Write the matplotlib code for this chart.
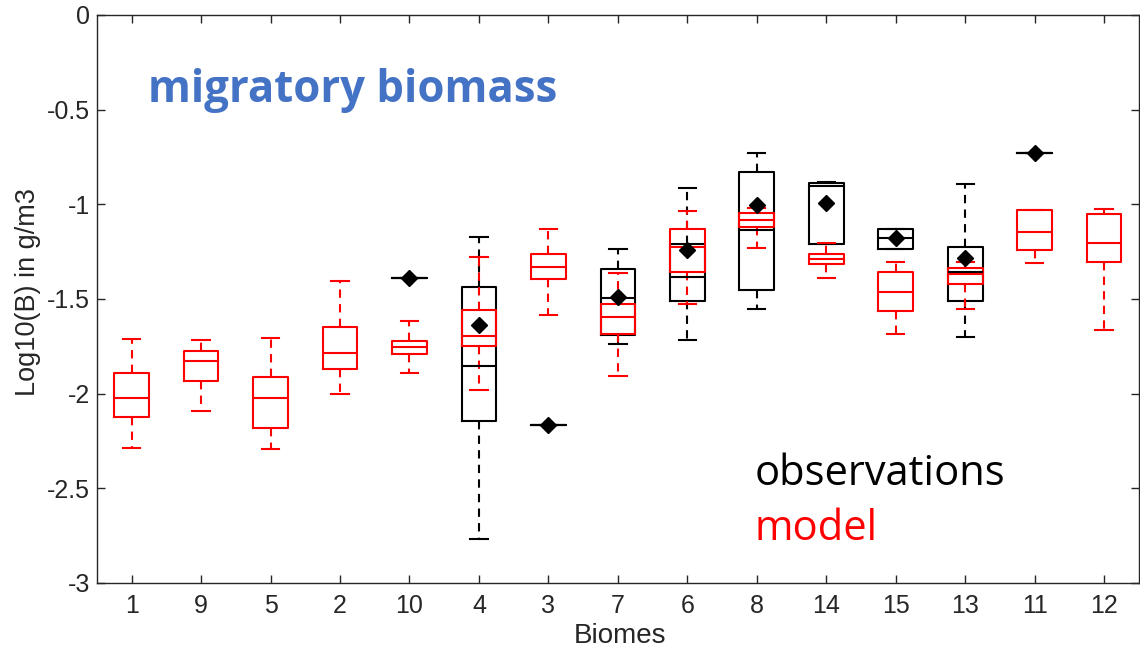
import matplotlib
matplotlib.use("Agg")
import matplotlib.pyplot as plt

plt.rcParams['axes.unicode_minus'] = False

biomes = ['1', '9', '5', '2', '10', '4', '3', '7', '6', '8', '14', '15', '13', '11', '12']

# model (red): lower whisker, q1, median, q3, upper whisker
mod_lo  = [-2.287, -2.094, -2.293, -2.002, -1.893, -1.981, -1.587, -1.907, -1.528, -1.229, -1.391, -1.685, -1.553, -1.308, -1.664]
mod_q1  = [-2.122, -1.932, -2.182, -1.868, -1.793, -1.747, -1.396, -1.687, -1.356, -1.122, -1.315, -1.565, -1.423, -1.241, -1.307]
mod_med = [-2.023, -1.826, -2.025, -1.784, -1.756, -1.694, -1.329, -1.594, -1.224, -1.083, -1.289, -1.463, -1.368, -1.148, -1.203]
mod_q3  = [-1.893, -1.773, -1.914, -1.646, -1.720, -1.558, -1.263, -1.527, -1.132, -1.048, -1.263, -1.356, -1.335, -1.030, -1.051]
mod_hi  = [-1.712, -1.717, -1.708, -1.405, -1.618, -1.277, -1.132, -1.365, -1.035, -1.021, -1.203, -1.305, -1.303, -1.030, -1.027]

# observations (black), only some biomes have data
obs_biomes = ['10', '4', '3', '7', '6', '8', '14', '15', '13', '11']
obs_lo   = [-1.391, -2.770, -2.166, -1.738, -1.715, -1.555, -1.211, -1.236, -1.703, -0.731]
obs_q1   = [-1.391, -2.143, -2.166, -1.690, -1.509, -1.451, -1.211, -1.236, -1.511, -0.731]
obs_med  = [-1.391, -1.853, -2.166, -1.493, -1.386, -1.136, -0.903, -1.180, -1.356, -0.731]
obs_q3   = [-1.391, -1.435, -2.166, -1.340, -1.210, -0.831, -0.889, -1.132, -1.227, -0.731]
obs_hi   = [-1.391, -1.171, -2.166, -1.238, -0.912, -0.727, -0.884, -1.132, -0.893, -0.731]
obs_mean = [-1.391, -1.638, -2.166, -1.488, -1.241, -1.004, -0.991, -1.180, -1.285, -0.731]


def make_stats(lo, q1, med, q3, hi):
    return [dict(whislo=a, q1=b, med=c, q3=d, whishi=e, fliers=[])
            for a, b, c, d, e in zip(lo, q1, med, q3, hi)]


def draw(ax, stats, pos, color):
    lw = 1.5
    ax.bxp(stats, positions=pos, widths=0.5, capwidths=0.25, showfliers=False,
           boxprops=dict(color=color, linewidth=lw),
           medianprops=dict(color=color, linewidth=lw),
           whiskerprops=dict(color=color, linewidth=lw, linestyle=(0, (4, 3))),
           capprops=dict(color=color, linewidth=lw),
           manage_ticks=False)


fig = plt.figure(figsize=(11.4, 6.53), dpi=100)
ax = fig.add_axes([0.085, 0.1072, 0.914, 0.870])

xpos = list(range(1, len(biomes) + 1))
obs_pos = [biomes.index(b) + 1 for b in obs_biomes]

draw(ax, make_stats(obs_lo, obs_q1, obs_med, obs_q3, obs_hi), obs_pos, 'black')
draw(ax, make_stats(mod_lo, mod_q1, mod_med, mod_q3, mod_hi), xpos, '#ff0000')
ax.plot(obs_pos, obs_mean, linestyle='none', marker='D', markersize=8.5,
        color='black', zorder=5)

ax.set_xlim(0.5, len(biomes) + 0.5)
ax.set_ylim(-3, 0)
ax.set_xticks(xpos)
ax.set_xticklabels(biomes)
ax.set_yticks([0, -0.5, -1, -1.5, -2, -2.5, -3])
ax.set_yticklabels(['0', '-0.5', '-1', '-1.5', '-2', '-2.5', '-3'])
ax.tick_params(direction='in', top=True, right=True, labelsize=18,
               length=6, width=1, colors='#262626', labelcolor='#262626')
ax.tick_params(axis='x', pad=8)
ax.tick_params(axis='y', pad=5)
for s in ax.spines.values():
    s.set_color('#262626')
    s.set_linewidth(1.0)
ax.set_xlabel('Biomes', fontsize=20, color='#262626', family='Liberation Sans',
              va='top')
ax.xaxis.set_label_coords(0.502, -0.07)
ax.set_ylabel('Log10(B) in g/m3', fontsize=19.5, color='#262626',
              family='Liberation Sans', va='center')
ax.yaxis.set_label_coords(-0.066, 0.512)
for lab in ax.get_xticklabels() + ax.get_yticklabels():
    lab.set_family('Liberation Sans')

fig.text(0.13, 0.862, 'migratory biomass', color='#4472C4', fontsize=31.5,
         fontweight='bold', family='Open Sans', va='center')
fig.text(0.662, 0.274, 'observations', color='black', fontsize=30,
         family='Open Sans', va='center')
fig.text(0.662, 0.190, 'model', color='#ff0000', fontsize=30,
         family='Open Sans', va='center')

fig.savefig('out.png', dpi=100)
